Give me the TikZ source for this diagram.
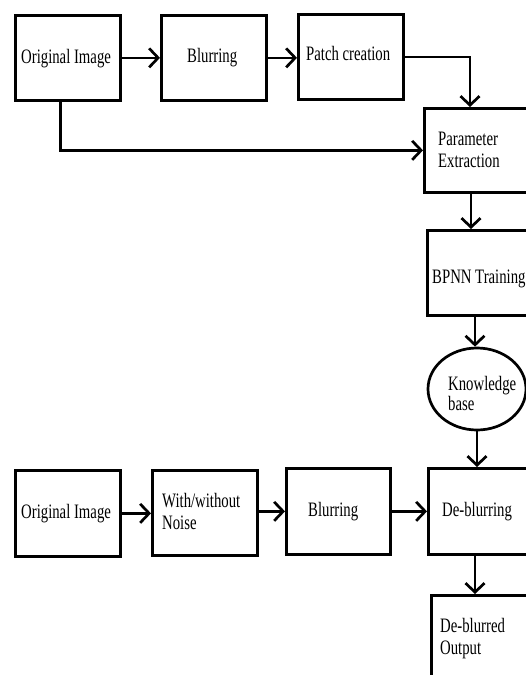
\documentclass[tikz,border=0pt]{standalone}
\usepackage{fontspec}
\setmainfont{Liberation Serif}[FakeStretch=0.72]
\usetikzlibrary{arrows.meta,shapes.geometric,calc}
\tikzset{
  box/.style={draw, line width=2.7pt, rectangle, anchor=north west, inner sep=0pt},
  oval/.style={draw, line width=2.7pt, ellipse, inner sep=0pt, minimum width=98pt, minimum height=82pt},
  lbl/.style={anchor=base west, inner sep=0pt, align=left, font=\fontsize{20.5}{22}\selectfont},
  conn/.style={line width=2.7pt, -{Straight Barb[length=9pt,width=19pt]}}
}
\begin{document}
\begin{tikzpicture}[x=1pt,y=-1pt]
\useasboundingbox (0,0) rectangle (526,675);
\clip (0,0) rectangle (526,675);
% boxes
\node[box, minimum width=105pt, minimum height=85pt] (orig1) at (14,14) {};
\node[box, minimum width=105pt, minimum height=85pt] (blur1) at (160,14) {};
\node[box, minimum width=105pt, minimum height=85pt] (patch) at (297,13) {};
\node[box, minimum width=120pt, minimum height=84pt] (param) at (423,107) {};
\node[box, minimum width=120pt, minimum height=85pt] (bpnn) at (426,229) {};
\node[oval] (know) at (477,389) {};
\node[box, minimum width=105pt, minimum height=86pt] (orig2) at (14,469) {};
\node[box, minimum width=105pt, minimum height=85pt] (wn) at (151,469) {};
\node[box, minimum width=104pt, minimum height=86pt] (blur2) at (285,467) {};
\node[box, minimum width=120pt, minimum height=86pt] (deblur) at (427,467) {};
\node[box, minimum width=120pt, minimum height=110pt] (out) at (430,594) {};
% texts (base anchor = baseline of last line)
\node[lbl] (t-orig1) at (21,63) {Original Image};
\node[lbl] (t-blur1) at (187,62.7) {Blurring};
\node[lbl] (t-patch) at (306,60) {Patch creation};
\node[lbl] (t-param) at (438,167) {Parameter\\Extraction};
\node[lbl] (t-bpnn) at (432,283) {BPNN Training};
\node[lbl, font=\fontsize{20.5}{20}\selectfont] (t-know) at (448,410) {Knowledge\\base};
\node[lbl] (t-orig2) at (21,518) {Original Image};
\node[lbl] (t-wn) at (162,529) {With/without\\Noise};
\node[lbl] (t-blur2) at (308,516.7) {Blurring};
\node[lbl] (t-deblur) at (442,516.7) {De-blurring};
\node[lbl] (t-out) at (440,654) {De-blurred\\Output};
% connectors
\coordinate (pin) at ($(param.north west)+(47,0)$);
\coordinate (ofoot) at ($(orig1.south)+(-7.5,0)$);
\draw[conn] (orig1.east) -- (blur1.west);
\draw[conn] (blur1.east) -- (blur1.east -| patch.west);
\draw[conn] (patch.east) -| (pin);
\draw[conn] (ofoot) |- (param.west);
\coordinate (pout) at ($(param.south west)+(48,0)$);
\draw[conn] (pout) -- (pout |- bpnn.north);
\coordinate (bout) at ($(bpnn.south west)+(49,0)$);
\draw[conn] (bout) -- (bout |- know.north);
\draw[conn] (know.south) -- (know.south |- deblur.north);
\draw[conn] (orig2.east) -- (orig2.east -| wn.west);
\draw[conn] (blur2.west -| wn.east) -- (blur2.west);
\draw[conn] (blur2.east) -- (deblur.west);
\coordinate (dout) at ($(deblur.south west)+(48,0)$);
\draw[conn] (dout) -- (dout |- out.north);
\end{tikzpicture}
\end{document}
